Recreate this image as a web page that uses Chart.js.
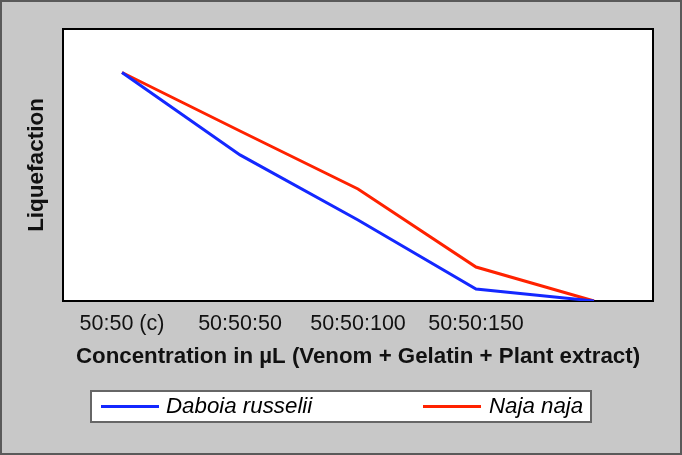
<!DOCTYPE html>
<html><head><meta charset="utf-8">
<script src="https://cdn.jsdelivr.net/npm/chart.js@4.4.1/dist/chart.umd.min.js"></script>
<style>html,body{margin:0;padding:0;background:#c8c8c8;overflow:hidden}#w{width:682px;height:455px;position:relative}</style>
</head><body><div id="w"><canvas id="c"></canvas></div>
<script>
const categories = ['50:50 (c)', '50:50:50', '50:50:100', '50:50:150', ''];
const daboiaValues = [84, 53.7, 29.8, 4.4, 0];
const najaValues = [84, 62.5, 41.2, 12.5, 0];
const seriesNames = ['Daboia russelii', 'Naja naja'];
const seriesColors = ['#1428ff', '#ff2200'];
const xTitle = 'Concentration in µL (Venom + Gelatin + Plant extract)';
const yTitle = 'Liquefaction';

const FONT = '"Liberation Sans", Arial, sans-serif';

const framePlugin = {
  id: 'frame',
  beforeDraw(chart) {
    const ctx = chart.ctx, a = chart.chartArea;
    ctx.save();
    ctx.fillStyle = '#c8c8c8';
    ctx.fillRect(0, 0, chart.width, chart.height);
    ctx.strokeStyle = '#5a5a5a';
    ctx.lineWidth = 2;
    ctx.strokeRect(1, 1, chart.width - 2, chart.height - 2);
    ctx.fillStyle = '#ffffff';
    ctx.fillRect(a.left, a.top, a.right - a.left, a.bottom - a.top);
    ctx.restore();
  },
  beforeDatasetsDraw(chart) {
    const ctx = chart.ctx, a = chart.chartArea;
    ctx.save();
    ctx.strokeStyle = '#000000';
    ctx.lineWidth = 2;
    ctx.strokeRect(a.left, a.top, a.right - a.left, a.bottom - a.top);
    ctx.restore();
  },
  afterDraw(chart) {
    const ctx = chart.ctx;
    ctx.save();
    ctx.fillStyle = '#ffffff';
    ctx.fillRect(91, 391, 500, 31);
    ctx.strokeStyle = '#666666';
    ctx.lineWidth = 2;
    ctx.strokeRect(91, 391, 500, 31);
    const items = [{x0: 101, x1: 159, tx: 166}, {x0: 423, x1: 481, tx: 489}];
    chart.data.datasets.forEach((ds, i) => {
      const it = items[i];
      ctx.strokeStyle = ds.borderColor;
      ctx.lineWidth = 3;
      ctx.beginPath();
      ctx.moveTo(it.x0, 406.5);
      ctx.lineTo(it.x1, 406.5);
      ctx.stroke();
      ctx.fillStyle = '#000000';
      ctx.font = 'italic 22.3px ' + FONT;
      ctx.textBaseline = 'middle';
      ctx.textAlign = 'left';
      ctx.fillText(ds.label, it.tx, 407);
    });
    ctx.restore();
  }
};

new Chart(document.getElementById('c'), {
  type: 'line',
  data: {
    labels: categories,
    datasets: [
      {label: seriesNames[0], data: daboiaValues, borderColor: seriesColors[0], backgroundColor: seriesColors[0], borderWidth: 3, pointRadius: 0, tension: 0, fill: false},
      {label: seriesNames[1], data: najaValues, borderColor: seriesColors[1], backgroundColor: seriesColors[1], borderWidth: 3, pointRadius: 0, tension: 0, fill: false}
    ]
  },
  options: {
    responsive: true,
    maintainAspectRatio: false,
    animation: false,
    layout: {padding: {left: 0, top: 29, right: 29, bottom: 84}},
    plugins: {legend: {display: false}, tooltip: {enabled: false}},
    scales: {
      x: {
        type: 'category',
        offset: true,
        grid: {display: false, drawTicks: false},
        border: {display: false},
        ticks: {color: '#111111', font: {family: FONT, size: 21.5}, padding: 10, maxRotation: 0, autoSkip: false},
        title: {display: true, text: xTitle, color: '#111111', font: {family: FONT, size: 22.3, weight: 'bold'}, padding: {top: 0, bottom: 1}},
        afterFit(s) { s.height = 70; }
      },
      y: {
        min: 0, max: 100,
        grid: {display: false, drawTicks: false},
        border: {display: false},
        ticks: {display: false},
        title: {display: true, text: yTitle, color: '#111111', font: {family: FONT, size: 22.5, weight: 'bold'}, padding: {top: 23, bottom: 0}},
        afterFit(s) { s.width = 63; }
      }
    }
  },
  plugins: [framePlugin]
});
</script>
</body></html>
